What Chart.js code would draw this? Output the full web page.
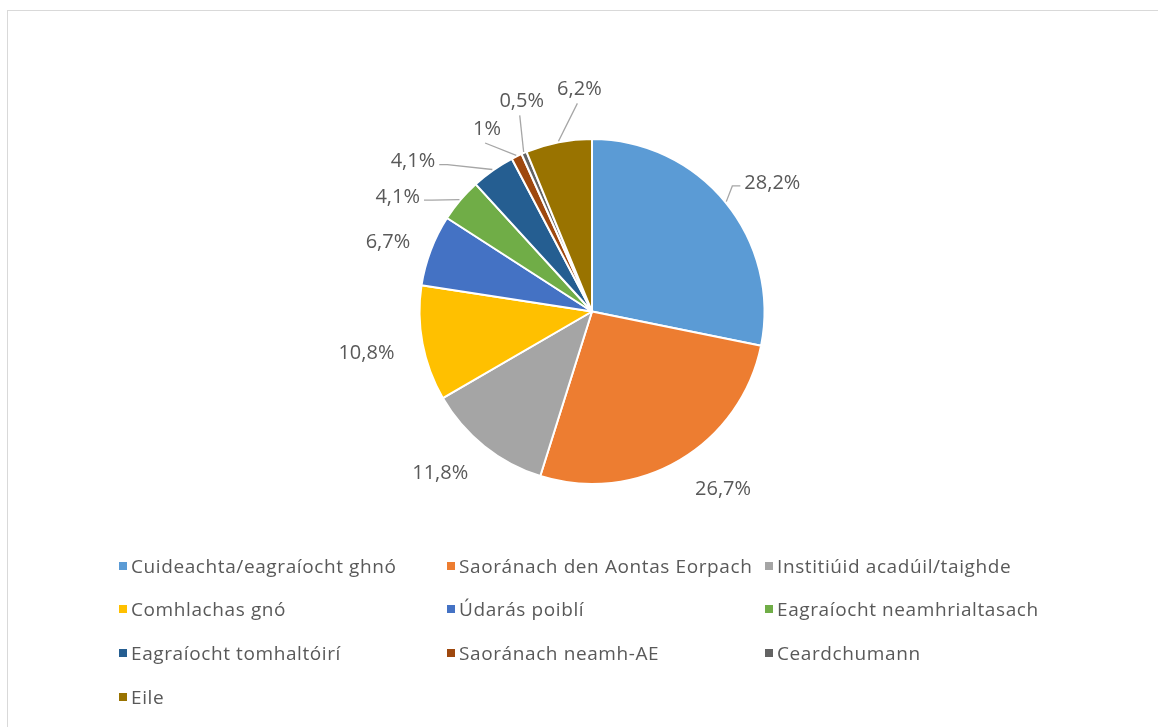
<!DOCTYPE html>
<html>
<head>
<meta charset="utf-8">
<script src="https://cdn.jsdelivr.net/npm/chart.js@4.4.1/dist/chart.umd.min.js"></script>
<style>
  html, body { margin: 0; padding: 0; background: #fff; }
  body { width: 1158px; height: 727px; position: relative; overflow: hidden; font-family: "Open Sans", "Liberation Sans", sans-serif; }
  #frame { position: absolute; left: 7px; top: 10px; width: 1200px; height: 800px; border: 1px solid #d9d9d9; box-sizing: border-box; }
  #wrap { position: absolute; left: 0; top: 0; width: 1158px; height: 727px; }
  #legend { position: absolute; left: 0; top: 0; width: 1158px; height: 727px; pointer-events: none; }
  .item { position: absolute; color: #595959; font-size: 19px; letter-spacing: 0.6px; line-height: 20px; white-space: nowrap; }
  .item span.box { position: absolute; left: 0; top: 6px; width: 8px; height: 8px; }
  .item span.txt { position: absolute; left: 12px; top: 0; }
</style>
</head>
<body>
<div id="frame"></div>
<div id="wrap"><canvas id="pie" width="1158" height="727"></canvas></div>
<div id="legend"></div>
<script>
var CATEGORIES = [
    "Cuideachta/eagraíocht ghnó", "Saoránach den Aontas Eorpach", "Institiúid acadúil/taighde",
    "Comhlachas gnó", "Údarás poiblí", "Eagraíocht neamhrialtasach",
    "Eagraíocht tomhaltóirí", "Saoránach neamh-AE", "Ceardchumann",
    "Eile"
];
var PERCENTS = [28.2, 26.7, 11.8, 10.8, 6.7, 4.1, 4.1, 1, 0.5, 6.2];
var COLORS = [
    "#5B9BD5", "#ED7D31", "#A5A5A5", "#FFC000", "#4472C4",
    "#70AD47", "#255E91", "#9E480E", "#636363", "#997300"
];

// label placement tweaks (degrees off the slice middle, px beyond the rim)
var LABEL_TURN = [3.8, -5.9, 4.6, 0.1, -2, -9.7, -15, -4, 4.7, 7.9];
var LABEL_GAP = [49, 48, 49, 57, 43, 53, 61, 38, 49, 50];
var LEADER = [true, false, false, false, false, true, true, true, true, true];

function fmt(v) {
    return String(v).replace(".", ",") + "%";
}

var outsideLabels = {
    id: "outsideLabels",
    afterDatasetsDraw: function (chart) {
        var ctx = chart.ctx;
        var arcs = chart.getDatasetMeta(0).data;
        ctx.save();
        ctx.font = "20px 'Open Sans', 'Liberation Sans', sans-serif";
        ctx.textAlign = "center";
        ctx.textBaseline = "middle";
        arcs.forEach(function (arc, i) {
            var mid = (arc.startAngle + arc.endAngle) / 2;
            var a = mid + LABEL_TURN[i] * Math.PI / 180;
            var r = arc.outerRadius + LABEL_GAP[i];
            var tx = arc.x + Math.cos(a) * r;
            var ty = arc.y + Math.sin(a) * r;
            var text = fmt(PERCENTS[i]);
            ctx.fillStyle = "#595959";
            ctx.fillText(text, tx, ty);

            if (LEADER[i]) {
                var w = ctx.measureText(text).width;
                var ex = arc.x + Math.cos(mid) * (arc.outerRadius + 1);
                var ey = arc.y + Math.sin(mid) * (arc.outerRadius + 1);
                ctx.strokeStyle = "#a6a6a6";
                ctx.lineWidth = 1.3;
                ctx.beginPath();
                if (Math.abs(ex - tx) > Math.abs(ey - ty) + 10) {
                    var side = ex > tx ? 1 : -1;
                    var ax = tx + side * (w / 2 + 4);
                    ctx.moveTo(ax, ty + 3);
                    ctx.lineTo(ax + side * 8, ty + 3);
                    ctx.lineTo(ex, ey);
                } else {
                    ctx.moveTo(tx - 2, ty + 14);
                    ctx.lineTo(ex, ey);
                }
                ctx.stroke();
            }
        });
        ctx.restore();
    }
};

var ctx1 = document.getElementById("pie").getContext("2d");
var myChart1 = new Chart(ctx1, {
    type: "pie",
    data: {
        labels: CATEGORIES,
        datasets: [
            {
                data: PERCENTS,
                backgroundColor: COLORS,
                borderColor: "#ffffff",
                borderWidth: 2
            }
        ]
    },
    options: {
        responsive: false,
        animation: false,
        devicePixelRatio: 1,
        layout: {
            padding: { top: 138, bottom: 242, left: 300, right: 274 }
        },
        plugins: {
            legend: { display: false },
            tooltip: { enabled: false }
        }
    },
    plugins: [outsideLabels]
});

// legend, three columns like the original
var legendBox = document.getElementById("legend");
var colX = [119, 447, 765];
var rowY = [556, 599, 643, 687];
CATEGORIES.forEach(function (name, i) {
    var item = document.createElement("div");
    item.className = "item";
    item.style.left = colX[i % 3] + "px";
    item.style.top = rowY[Math.floor(i / 3)] + "px";
    item.innerHTML = '<span class="box" style="background:' + COLORS[i] + '"></span><span class="txt"></span>';
    item.querySelector(".txt").textContent = name;
    legendBox.appendChild(item);
});
</script>
</body>
</html>
